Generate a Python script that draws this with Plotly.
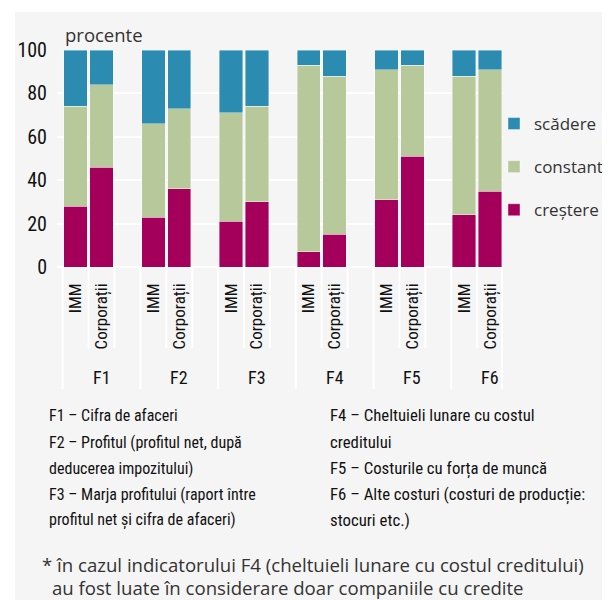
import plotly.graph_objects as go

groups = ["F1", "F2", "F3", "F4", "F5", "F6"]
firms = ["IMM", "Corporații"]
series_names = ["creștere", "constant", "scădere"]
legend_ranks = [3, 2, 1]
colors = ["#A4005B", "#B7C89B", "#2B8BB0"]

crestere = [28, 46, 23, 36, 21, 30, 7, 15, 31, 51, 24, 35]
constant = [46, 38, 43, 37, 50, 44, 86, 73, 60, 42, 64, 56]
scadere  = [26, 16, 34, 27, 29, 26, 7, 12, 9, 7, 12, 9]
y_ticks = [0, 20, 40, 60, 80, 100]

notes_left = ["F1 – Cifra de afaceri", "F2 – Profitul (profitul net, după",
              "deducerea impozitului)", "F3 – Marja profitului (raport între",
              "profitul net și cifra de afaceri)"]
notes_right = ["F4 – Cheltuieli lunare cu costul", "creditului",
               "F5 – Costurile cu forța de muncă",
               "F6 – Alte costuri (costuri de producție:", "stocuri etc.)"]
footnote = ["* în cazul indicatorului F4 (cheltuieli lunare cu costul creditului)",
            "au fost luate în considerare doar companiile cu credite"]

COND = "Liberation Sans Narrow, Roboto Condensed, DejaVu Sans Condensed, sans-serif"
REG = "Open Sans, Noto Sans, sans-serif"

xpos = [g * 3 + j for g in range(len(groups)) for j in range(len(firms))]
xlabels = [f for g in groups for f in firms]

fig = go.Figure()
for name, vals, col, rk in zip(series_names, [crestere, constant, scadere], colors, legend_ranks):
    fig.add_trace(go.Bar(
        x=xpos, y=vals, name=name, width=0.9, legendrank=rk,
        marker=dict(color=col, line=dict(color="rgba(255,255,255,0.5)", width=0.8)),
        legendgroup=name,
    ))

OFF = 8  # page body margin
W, H = 610 - OFF, 600 - OFF
L = 57 - OFF
T = 50 - OFF
R = W - (503 - OFF)
B = H - (267 - OFF)
pw, ph = W - L - R, H - T - B

def px_x(px):
    return (px - OFF - L) / pw

def px_y(py):
    return (H - B - (py - OFF)) / ph

nslots = len(groups) * 3 - 1   # last group has no trailing gap slot
x_max = nslots - 0.5

shapes = [dict(type="rect", xref="paper", yref="paper", layer="below",
               x0=px_x(15), x1=px_x(620), y0=px_y(610), y1=px_y(12),
               fillcolor="#F5F5F5", line=dict(width=0))]
for k in range(nslots + 1):
    long_line = (k % 3 == 0) or k == nslots
    xe = k - 0.5 - (0.03 if k == nslots else 0)
    shapes.append(dict(type="line", xref="x", yref="paper",
                       x0=xe, x1=xe,
                       y0=0, y1=px_y(389 if long_line else 348),
                       line=dict(color="white", width=2)))

annotations = [dict(text="procente", xref="paper", yref="paper",
                    x=px_x(63), y=px_y(35), xanchor="left", yanchor="middle",
                    showarrow=False, font=dict(family=REG, size=18.5, color="#333"))]
for g, gname in enumerate(groups):
    annotations.append(dict(text=gname, xref="x", yref="paper", x=g * 3 + 1,
                            y=px_y(377), xanchor="center", yanchor="middle",
                            showarrow=False,
                            font=dict(family=COND, size=18, color="#111")))
ys = [415, 442, 468, 494, 520]
for txt, py in zip(notes_left, ys):
    annotations.append(dict(text=txt, xref="paper", yref="paper", x=px_x(47),
                            y=px_y(py), xanchor="left", yanchor="middle",
                            showarrow=False,
                            font=dict(family=COND, size=16, color="#111")))
for txt, py in zip(notes_right, ys):
    annotations.append(dict(text=txt, xref="paper", yref="paper", x=px_x(328),
                            y=px_y(py), xanchor="left", yanchor="middle",
                            showarrow=False,
                            font=dict(family=COND, size=16.8, color="#111")))
for i, (txt, py) in enumerate(zip(footnote, [564, 588])):
    annotations.append(dict(text=txt, xref="paper", yref="paper",
                            x=px_x(40 if i == 0 else 50),
                            y=px_y(py), xanchor="left", yanchor="middle",
                            showarrow=False,
                            font=dict(family=REG, size=18.6, color="#333")))

fig.update_layout(
    width=W, height=H, barmode="stack",
    margin=dict(l=L, r=R, t=T, b=B, pad=0, autoexpand=False),
    paper_bgcolor="white", plot_bgcolor="#F5F5F5",
    shapes=shapes, annotations=annotations,
    legend=dict(xref="container", yref="container",
                x=(494 - OFF) / W, y=1 - (106 - OFF) / H,
                xanchor="left", yanchor="top",
                traceorder="grouped", tracegroupgap=18,
                font=dict(family=REG, size=17, color="#333"),
                bgcolor="rgba(0,0,0,0)"),
    xaxis=dict(range=[-0.72, x_max], tickvals=xpos, ticktext=xlabels,
               tickangle=-90, showgrid=False, zeroline=False, ticks="",
               ticklabelstandoff=12,
               tickfont=dict(family=COND, size=17, color="#111")),
    yaxis=dict(range=[0, 100], tickvals=y_ticks, showgrid=True,
               gridcolor="white", gridwidth=2, zeroline=True,
               zerolinecolor="white", zerolinewidth=2, ticks="",
               ticklabelstandoff=9,
               tickfont=dict(family=COND, size=20, color="#111")),
)

fig.write_html("out.html")
